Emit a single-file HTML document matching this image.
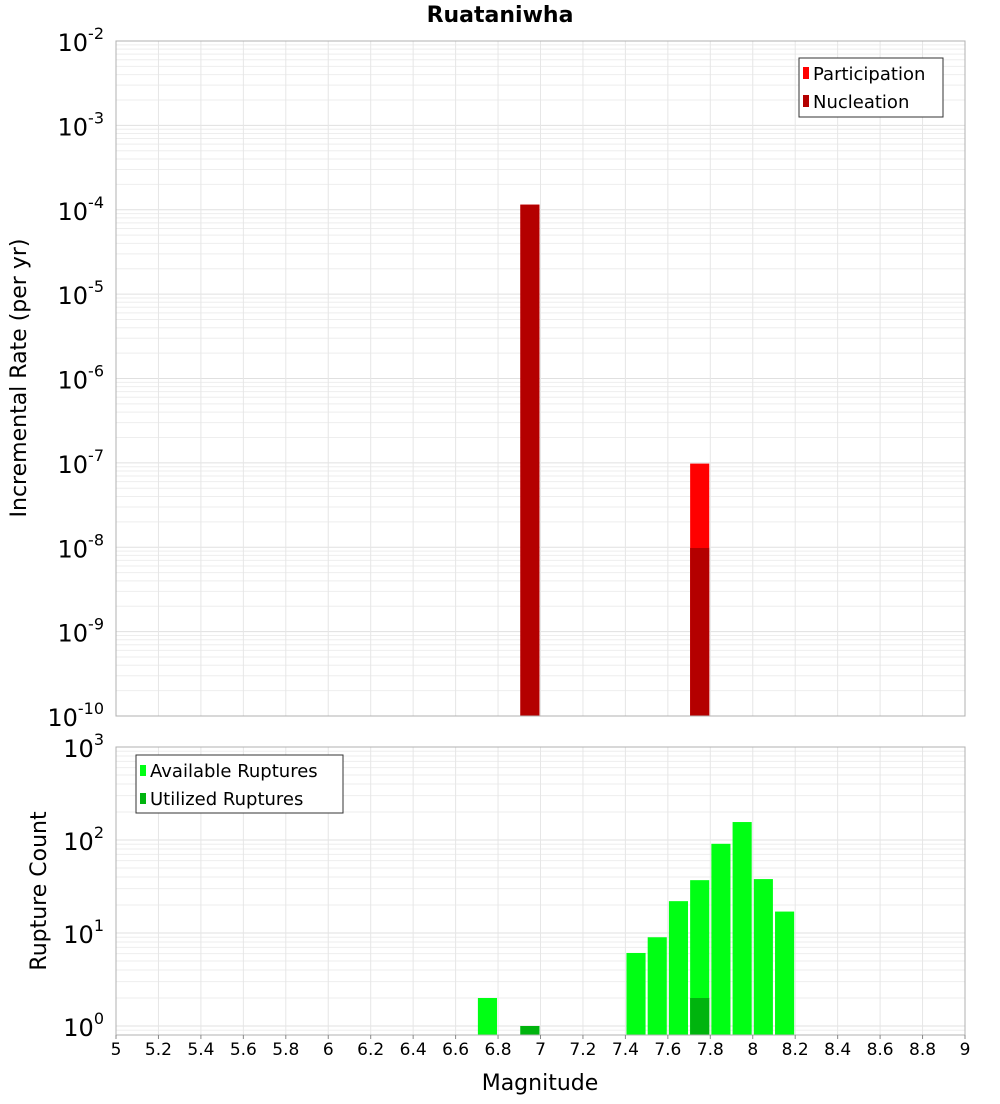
<!DOCTYPE html>
<html><head><meta charset="utf-8"><style>
body{margin:0;background:#fff;font-family:"DejaVu Sans","Liberation Sans",sans-serif}
</style></head><body>
<svg id="c" width="1000" height="1100" xmlns="http://www.w3.org/2000/svg"></svg>
<script>
const binCenters=[6.95,7.75];
const participation=[1.15e-4,9.8e-8];
const nucleation=[1.15e-4,9.8e-9];
const countBins=[6.75,6.95,7.45,7.55,7.65,7.75,7.85,7.95,8.05,8.15];
const available=[2,1,6.1,9,22,37,91,156,38,17];
const utilizedBins=[6.95,7.75];
const utilized=[1,2];
const xTicks=["5","5.2","5.4","5.6","5.8","6","6.2","6.4","6.6","6.8","7","7.2","7.4","7.6","7.8","8","8.2","8.4","8.6","8.8","9"];

const NS="http://www.w3.org/2000/svg";
const svg=document.getElementById('c');
function mk(t,a,p){const e=document.createElementNS(NS,t);for(const k in a)e.setAttribute(k,a[k]);(p||svg).appendChild(e);return e;}
const L=116,R=965;
const x=m=>L+(m-5)/4*(R-L);
const y1=v=>41+(-2-Math.log10(v))*84.375;
const y2=v=>1026-Math.log10(v)*93;
const T1=41,B1=716,T2=747,B2=1035;

function grid(top,bot,yf,dmin,dmax){
  for(let d=dmin;d<dmax;d++)for(let k=1;k<10;k++){const yy=yf(k*Math.pow(10,d));if(yy<top||yy>bot)continue;
    const g=mk('line',{x1:L,x2:R,y1:yy,y2:yy,stroke:k==1?'#e0e0e0':'#eeeeee','stroke-width':1});
    }
  xTicks.forEach(t=>{const xx=x(+t);const g=mk('line',{x1:xx,x2:xx,y1:top,y2:bot,stroke:'#e6e6e6'});
    });
}
grid(T1,B1,y1,-10,-1);
grid(T2,B2,y2,-1,3);

const bw=0.09;
binCenters.forEach((m,i)=>{
  const r=mk('rect',{x:x(m-bw/2),y:y1(participation[i]),width:x(m+bw/2)-x(m-bw/2),height:B1-y1(participation[i]),fill:'#ff0000'});
  
  const n=mk('rect',{x:x(m-bw/2),y:y1(nucleation[i]),width:x(m+bw/2)-x(m-bw/2),height:B1-y1(nucleation[i]),fill:'#b40000'});
  
});
countBins.forEach((m,i)=>{
  const r=mk('rect',{x:x(m-bw/2),y:y2(available[i]),width:x(m+bw/2)-x(m-bw/2),height:B2-y2(available[i]),fill:'#00ff14'});
  
});
utilizedBins.forEach((m,i)=>{
  const r=mk('rect',{x:x(m-bw/2),y:y2(utilized[i]),width:x(m+bw/2)-x(m-bw/2),height:B2-y2(utilized[i]),fill:'#00b40e'});
  
});

mk('rect',{x:L,y:T1,width:R-L,height:B1-T1,fill:'none',stroke:'#b0b0b0'});
mk('rect',{x:L,y:T2,width:R-L,height:B2-T2,fill:'none',stroke:'#b0b0b0'});

function pow(yy,e,nm){const t=mk('text',{x:104,y:yy+10,'text-anchor':'end','font-size':24,fill:'#000'});
  
  t.innerHTML='10<tspan dy="-12" font-size="16">'+e+'</tspan>';}
for(let d=-2;d>=-10;d--)pow(y1(Math.pow(10,d)),d,'y-tick-label');
for(let d=3;d>=0;d--)pow(y2(Math.pow(10,d)),d,'count-tick-label');

xTicks.forEach(t=>{const xx=x(+t);
  mk('line',{x1:xx,x2:xx,y1:B2,y2:B2+4,stroke:'#888'});
  const e=mk('text',{x:xx,y:B2+20,'text-anchor':'middle','font-size':17});
  e.textContent=t;});

function txt(s,a,nm){const e=mk('text',a);e.textContent=s;return e;}
txt('Ruataniwha',{x:500,y:22,'text-anchor':'middle','font-size':22,'font-weight':'bold'},'chart-title');
txt('Magnitude',{x:540,y:1090,'text-anchor':'middle','font-size':22},'x-axis-title');
txt('Incremental Rate (per yr)',{x:0,y:0,'text-anchor':'middle','font-size':22,transform:'translate(26,378) rotate(-90)'},'y-axis-title');
txt('Rupture Count',{x:0,y:0,'text-anchor':'middle','font-size':22,transform:'translate(46,891) rotate(-90)'},'count-axis-title');

const lg1=mk('g',{});
mk('rect',{x:799,y:58,width:144,height:59,fill:'#fff',stroke:'#333'},lg1);
mk('rect',{x:803,y:67,width:6,height:12,fill:'#ff0000'},lg1);
mk('rect',{x:803,y:95,width:6,height:12,fill:'#b40000'},lg1);
txt('Participation',{x:813,y:80,'font-size':18},'legend-entry-participation');
txt('Nucleation',{x:813,y:108,'font-size':18},'legend-entry-nucleation');
const lg2=mk('g',{});
mk('rect',{x:136,y:755,width:207,height:58,fill:'#fff',stroke:'#333'},lg2);
mk('rect',{x:140,y:765,width:6,height:11,fill:'#00ff14'},lg2);
mk('rect',{x:140,y:793,width:6,height:11,fill:'#00b40e'},lg2);
txt('Available Ruptures',{x:150,y:777,'font-size':18},'legend-entry-available');
txt('Utilized Ruptures',{x:150,y:805,'font-size':18},'legend-entry-utilized');
</script>
</body></html>
